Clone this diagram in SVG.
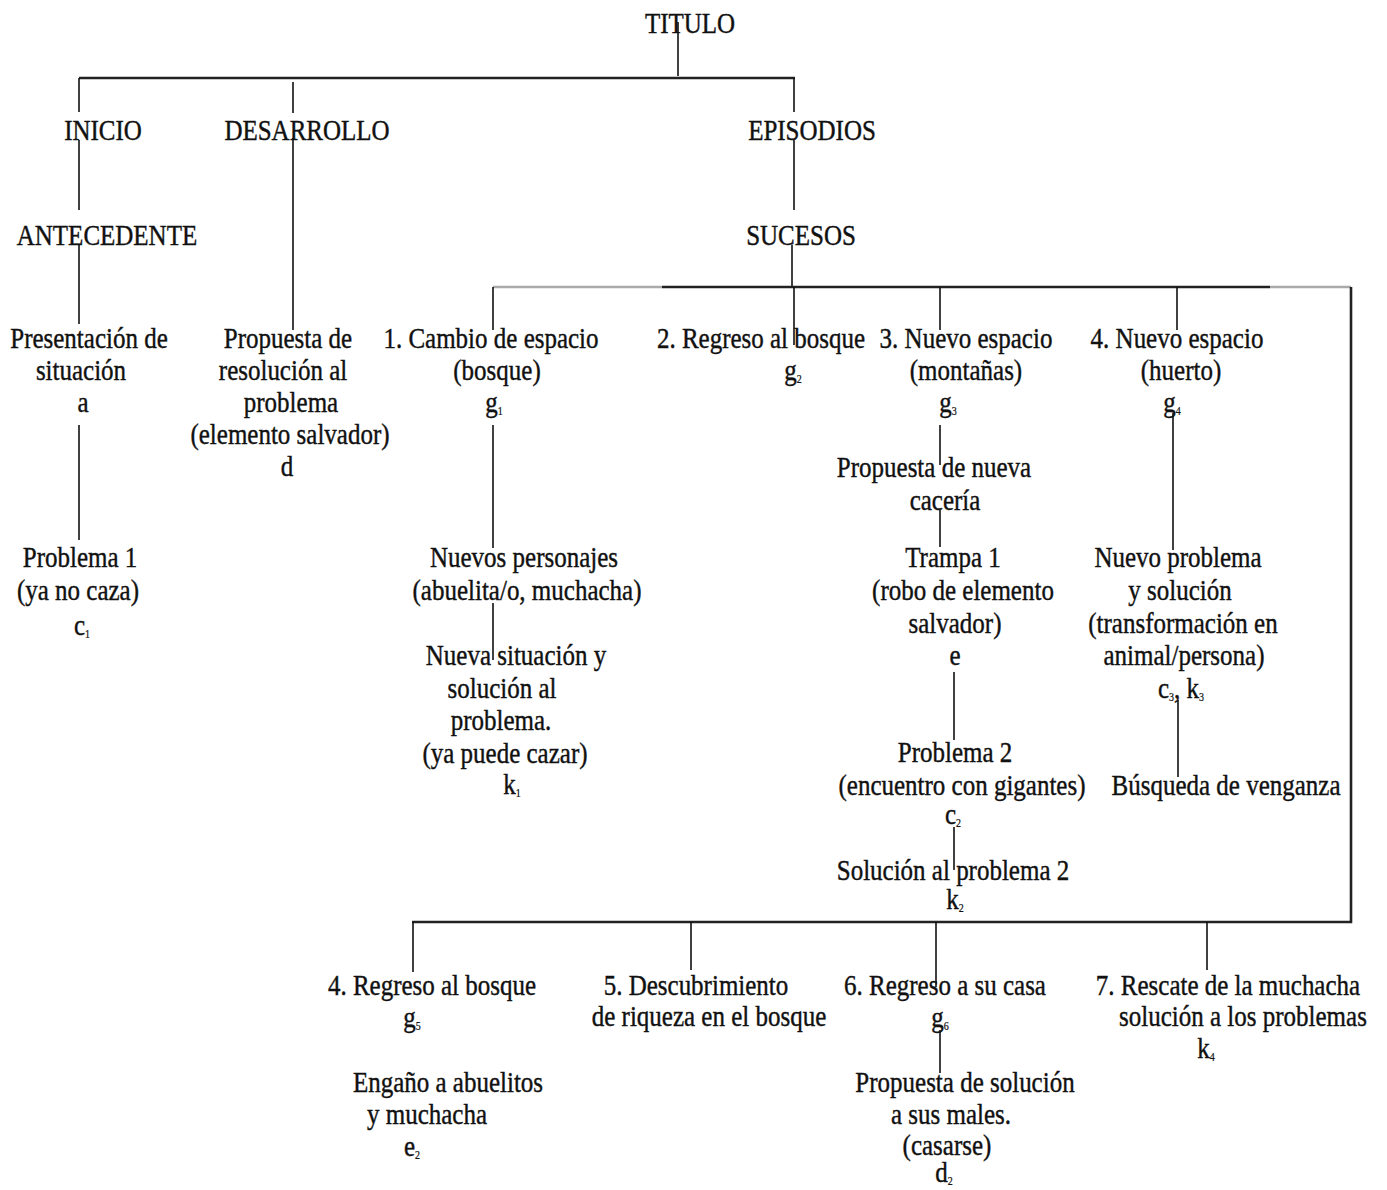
<svg xmlns="http://www.w3.org/2000/svg" width="1387" height="1190" viewBox="0 0 1387 1190">
  <style>
    text { font-family: "Liberation Serif", "Times New Roman", serif; font-size: 25px; fill: #111; stroke: #111; stroke-width: 0.35;
           text-anchor: middle; transform-box: fill-box; transform-origin: 50% 50%; transform: scaleY(1.18); }
    .sub { font-size: 10px; stroke-width: 0.2; }
    .ln { stroke: #111; stroke-width: 1.6; fill: none; }
    .bar { stroke: #222; stroke-width: 2.6; fill: none; }
    .barg { stroke: #aaa; stroke-width: 2.6; fill: none; }
  </style>
  <rect width="1387" height="1190" fill="#fff"/>

  <g id="connectors">
    <!-- top level -->
    <line class="ln" x1="678" y1="22" x2="678" y2="76"/>
    <line class="bar" x1="79" y1="78" x2="795" y2="78"/>
    <line class="ln" x1="79" y1="78" x2="79" y2="112"/>
    <line class="ln" x1="293" y1="82" x2="293" y2="113"/>
    <line class="ln" x1="293" y1="138" x2="293" y2="330"/>
    <line class="ln" x1="794" y1="78" x2="794" y2="112"/>
    <line class="ln" x1="79" y1="140" x2="79" y2="210"/>
    <line class="ln" x1="794" y1="140" x2="794" y2="210"/>
    <line class="ln" x1="79" y1="245" x2="79" y2="324"/>
    <line class="ln" x1="79" y1="425" x2="79" y2="540"/>
    <!-- sucesos bar -->
    <line class="ln" x1="792" y1="245" x2="792" y2="287"/>
    <line class="barg" x1="493" y1="287" x2="662" y2="287"/>
    <line class="bar" x1="662" y1="287" x2="1270" y2="287"/>
    <line class="barg" x1="1270" y1="287" x2="1351" y2="287"/>
    <line class="ln" x1="493" y1="287" x2="493" y2="330"/>
    <line class="ln" x1="794" y1="287" x2="794" y2="345"/>
    <line class="ln" x1="940" y1="287" x2="940" y2="330"/>
    <line class="ln" x1="1177" y1="287" x2="1177" y2="330"/>
    <line class="bar" x1="1351" y1="287" x2="1351" y2="923"/>
    <!-- episode chains -->
    <line class="ln" x1="493" y1="425" x2="493" y2="548"/>
    <line class="ln" x1="493" y1="603" x2="493" y2="660"/>
    <line class="ln" x1="940" y1="425" x2="940" y2="465"/>
    <line class="ln" x1="940" y1="510" x2="940" y2="547"/>
    <line class="ln" x1="954" y1="672" x2="954" y2="740"/>
    <line class="ln" x1="954" y1="827" x2="954" y2="870"/>
    <line class="ln" x1="1173" y1="413" x2="1173" y2="550"/>
    <line class="ln" x1="1178" y1="700" x2="1178" y2="777"/>
    <!-- bottom bar -->
    <line class="bar" x1="412" y1="922" x2="1352" y2="922"/>
    <line class="ln" x1="413" y1="922" x2="413" y2="972"/>
    <line class="ln" x1="691" y1="922" x2="691" y2="970"/>
    <line class="ln" x1="936" y1="922" x2="936" y2="987"/>
    <line class="ln" x1="1207" y1="922" x2="1207" y2="970"/>
    <line class="ln" x1="940" y1="1030" x2="940" y2="1073"/>
  </g>

  <g id="titulo"><text x="690" y="32">TITULO</text></g>
  <g id="inicio"><text x="103" y="139">INICIO</text></g>
  <g id="desarrollo"><text x="307" y="139">DESARROLLO</text></g>
  <g id="episodios"><text x="812" y="139">EPISODIOS</text></g>
  <g id="antecedente"><text x="107" y="244">ANTECEDENTE</text></g>
  <g id="sucesos"><text x="801" y="244">SUCESOS</text></g>

  <g id="presentacion">
    <text x="89" y="347">Presentación de</text>
    <text x="81" y="379">situación</text>
    <text x="83" y="411">a</text>
  </g>
  <g id="propuesta-resolucion">
    <text x="288" y="347">Propuesta de</text>
    <text x="283" y="379">resolución al</text>
    <text x="291" y="411">problema</text>
    <text x="290" y="443">(elemento salvador)</text>
    <text x="287" y="475">d</text>
  </g>
  <g id="cambio-espacio">
    <text x="491" y="347">1. Cambio de espacio</text>
    <text x="497" y="379">(bosque)</text>
    <text x="494" y="411">g<tspan class="sub" dy="2">1</tspan></text>
  </g>
  <g id="regreso-bosque-2">
    <text x="761" y="347">2.  Regreso al bosque</text>
    <text x="793" y="379">g<tspan class="sub" dy="2">2</tspan></text>
  </g>
  <g id="nuevo-espacio-3">
    <text x="966" y="347">3. Nuevo espacio</text>
    <text x="966" y="379">(montañas)</text>
    <text x="948" y="411">g<tspan class="sub" dy="2">3</tspan></text>
  </g>
  <g id="nuevo-espacio-4">
    <text x="1177" y="347">4. Nuevo espacio</text>
    <text x="1181" y="379">(huerto)</text>
    <text x="1172" y="411">g<tspan class="sub" dy="2">4</tspan></text>
  </g>

  <g id="problema-1">
    <text x="80" y="566">Problema 1</text>
    <text x="78" y="599">(ya no caza)</text>
    <text x="82" y="634">c<tspan class="sub" dy="2">1</tspan></text>
  </g>
  <g id="nuevos-personajes">
    <text x="524" y="566">Nuevos personajes</text>
    <text x="527" y="599">(abuelita/o, muchacha)</text>
  </g>
  <g id="nueva-situacion">
    <text x="516" y="664">Nueva situación y</text>
    <text x="502" y="697">solución al</text>
    <text x="501" y="729">problema.</text>
    <text x="505" y="762">(ya puede cazar)</text>
    <text x="512" y="793">k<tspan class="sub" dy="2">1</tspan></text>
  </g>
  <g id="nueva-caceria">
    <text x="934" y="476">Propuesta de nueva</text>
    <text x="945" y="509">cacería</text>
  </g>
  <g id="trampa-1">
    <text x="953" y="566">Trampa 1</text>
    <text x="963" y="599">(robo de elemento</text>
    <text x="955" y="632">salvador)</text>
    <text x="955" y="664">e</text>
  </g>
  <g id="nuevo-problema">
    <text x="1178" y="566">Nuevo problema</text>
    <text x="1180" y="599">y solución</text>
    <text x="1183" y="632">(transformación en</text>
    <text x="1184" y="664">animal/persona)</text>
    <text x="1181" y="697">c<tspan class="sub" dy="2">3</tspan><tspan dy="-2">, k</tspan><tspan class="sub" dy="2">3</tspan></text>
  </g>
  <g id="problema-2">
    <text x="955" y="761">Problema 2</text>
    <text x="962" y="794">(encuentro con gigantes)</text>
    <text x="953" y="823">c<tspan class="sub" dy="2">2</tspan></text>
  </g>
  <g id="venganza">
    <text x="1226" y="794">Búsqueda de venganza</text>
  </g>
  <g id="solucion-2">
    <text x="953" y="879">Solución al problema 2</text>
    <text x="955" y="908">k<tspan class="sub" dy="2">2</tspan></text>
  </g>

  <g id="regreso-bosque-4">
    <text x="432" y="994">4. Regreso al bosque</text>
    <text x="412" y="1026">g<tspan class="sub" dy="2">5</tspan></text>
  </g>
  <g id="engano">
    <text x="448" y="1091">Engaño a abuelitos</text>
    <text x="427" y="1123">y muchacha</text>
    <text x="412" y="1155">e<tspan class="sub" dy="2">2</tspan></text>
  </g>
  <g id="descubrimiento">
    <text x="696" y="994">5. Descubrimiento</text>
    <text x="709" y="1025">de riqueza en el bosque</text>
  </g>
  <g id="regreso-casa">
    <text x="945" y="994">6. Regreso a su casa</text>
    <text x="940" y="1026">g<tspan class="sub" dy="2">6</tspan></text>
  </g>
  <g id="propuesta-solucion">
    <text x="965" y="1091">Propuesta de solución</text>
    <text x="951" y="1123">a sus males.</text>
    <text x="947" y="1154">(casarse)</text>
    <text x="944" y="1181">d<tspan class="sub" dy="2">2</tspan></text>
  </g>
  <g id="rescate">
    <text x="1228" y="994">7. Rescate de la muchacha</text>
    <text x="1243" y="1025">solución a los problemas</text>
    <text x="1206" y="1057">k<tspan class="sub" dy="2">4</tspan></text>
  </g>
</svg>
